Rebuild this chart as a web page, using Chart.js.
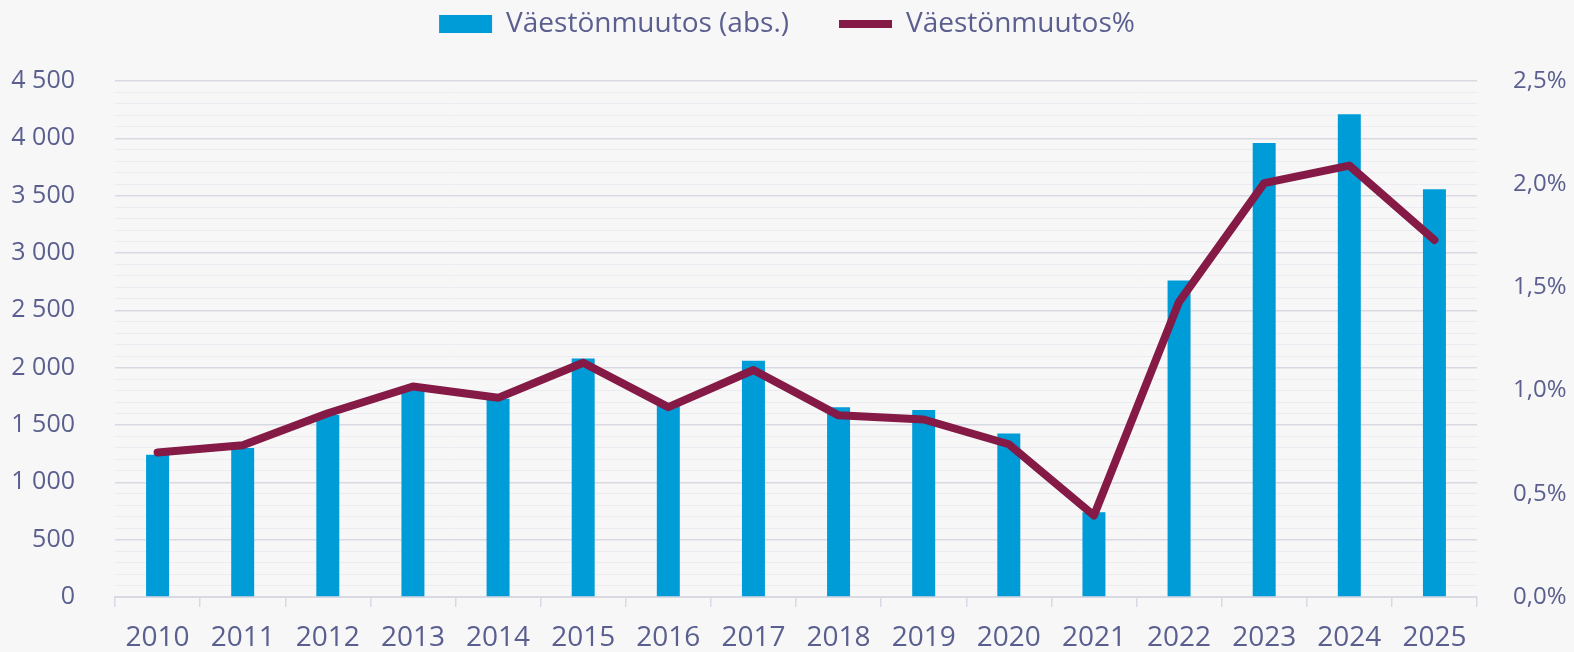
<!DOCTYPE html>
<html>
<head>
<meta charset="utf-8">
<script src="https://cdn.jsdelivr.net/npm/chart.js@4.4.1/dist/chart.umd.min.js"></script>
<style>
  html, body { margin: 0; padding: 0; background: #f7f7f7; }
  #wrap { width: 1574px; height: 652px; }
</style>
</head>
<body>
<div id="wrap"><canvas id="popChart" width="1574" height="652"></canvas></div>
<script>
// data
const years = ['2010', '2011', '2012', '2013', '2014', '2015', '2016', '2017',
  '2018', '2019', '2020', '2021', '2022', '2023', '2024', '2025'];
const changeAbs = [1240, 1300, 1590, 1810, 1730, 2080, 1690, 2060,
  1655, 1630, 1425, 740, 2760, 3960, 4210, 3555];
const changePct = [0.70, 0.735, 0.89, 1.02, 0.965, 1.135, 0.92, 1.10,
  0.88, 0.86, 0.74, 0.395, 1.43, 2.005, 2.09, 1.73];

const textColor = '#5a5f8f';
const majorGrid = '#d9d9e4';
const minorGrid = '#ebebf1';
const fontFamily = "'Open Sans', sans-serif";

const layoutTop = -40;
const plotTop = 81;

function thousands(v) {
  return String(v).replace(/\B(?=(\d{3})+(?!\d))/g, ' ');
}

// stretch the legend box so the plot starts where the reference does
const legendHeight = {
  id: 'legendHeight',
  beforeInit(chart) {
    const fit = chart.legend.fit;
    chart.legend.fit = function () {
      fit.bind(chart.legend)();
      this.height = plotTop - layoutTop;
    };
  }
};

const config = {
  type: 'bar',
  data: {
    labels: years,
    datasets: [{
      type: 'bar',
      label: 'Väestönmuutos (abs.)',
      data: changeAbs,
      backgroundColor: '#009cd8',
      borderWidth: 0,
      barPercentage: 0.27,
      categoryPercentage: 1,
      yAxisID: 'y',
      order: 2,
      pointStyle: 'rect'
    }, {
      type: 'line',
      label: 'Väestönmuutos%',
      data: changePct,
      borderColor: '#841a45',
      backgroundColor: '#841a45',
      borderWidth: 8,
      borderCapStyle: 'round',
      borderJoinStyle: 'round',
      pointRadius: 0,
      pointHoverRadius: 0,
      tension: 0,
      yAxisID: 'y1',
      order: 1,
      pointStyle: 'line'
    }]
  },
  options: {
    responsive: false,
    animation: false,
    layout: { padding: { top: layoutTop, right: 0, bottom: 0, left: 0 } },
    plugins: {
      legend: {
        position: 'top',
        labels: {
          color: textColor,
          font: { family: fontFamily, size: 28 },
          usePointStyle: true,
          pointStyleWidth: 53,
          boxHeight: 18,
          padding: 50,
          sort: (a, b) => a.datasetIndex - b.datasetIndex
        }
      },
      tooltip: { enabled: false }
    },
    scales: {
      x: {
        offset: true,
        grid: {
          offset: true,
          drawOnChartArea: false,
          drawTicks: true,
          tickLength: 10,
          color: majorGrid,
          lineWidth: 1.5
        },
        border: { color: majorGrid, width: 2 },
        ticks: {
          color: textColor,
          font: { family: fontFamily, size: 28 },
          padding: 14,
          maxRotation: 0,
          autoSkip: false
        },
        afterFit: (scale) => { scale.height = 51; }
      },
      y: {
        position: 'left',
        min: 0,
        max: 4500,
        ticks: {
          stepSize: 100,
          autoSkip: false,
          color: textColor,
          font: { family: fontFamily, size: 25 },
          padding: 40,
          callback: (v) => (v % 500 === 0 ? thousands(v) : '')
        },
        grid: {
          drawTicks: false,
          color: (ctx) => (ctx.tick && ctx.tick.value % 500 === 0 ? majorGrid : minorGrid),
          lineWidth: (ctx) => (ctx.tick && ctx.tick.value % 500 === 0 ? 1.5 : 1)
        },
        border: { display: false },
        afterFit: (scale) => { scale.width = 115; }
      },
      y1: {
        position: 'right',
        min: 0,
        max: 2.5,
        ticks: {
          stepSize: 0.5,
          autoSkip: false,
          color: textColor,
          font: { family: fontFamily, size: 24 },
          padding: 36,
          callback: (v) => v.toFixed(1).replace('.', ',') + '%'
        },
        grid: { drawOnChartArea: false, drawTicks: false },
        border: { display: false },
        afterFit: (scale) => { scale.width = 97; }
      }
    }
  },
  plugins: [legendHeight]
};

window.onload = function () {
  const ctx = document.getElementById('popChart').getContext('2d');
  new Chart(ctx, config);
};
</script>
</body>
</html>
